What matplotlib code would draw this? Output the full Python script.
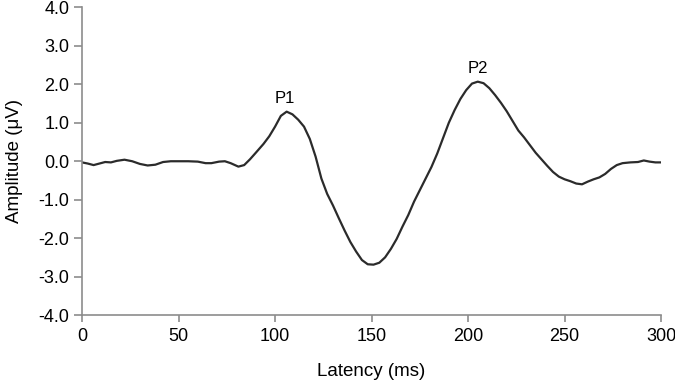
import matplotlib.pyplot as plt
from matplotlib.ticker import FormatStrFormatter

plt.rcParams['font.family'] = ['Liberation Sans', 'DejaVu Sans']
plt.rcParams['axes.unicode_minus'] = False

latency = [0, 3, 6, 9, 12, 15, 18, 22, 26, 30, 34, 38, 42, 46, 50, 55, 60, 64, 67, 71,
           74, 77, 81, 84, 87, 90, 94, 97, 100, 103, 106, 109, 112, 115, 118, 121, 124,
           127, 130, 133, 136, 139, 142, 145, 148, 151, 154, 157, 160, 163, 166, 169,
           172, 175, 178, 181, 184, 187, 190, 193, 196, 199, 202, 205, 208, 211, 214,
           217, 220, 223, 226, 229, 232, 235, 238, 241, 244, 247, 250, 253, 256, 259,
           262, 265, 268, 271, 274, 277, 280, 284, 288, 291, 294, 297, 300]
amplitude = [-0.03, -0.06, -0.10, -0.06, -0.02, -0.03, 0.01, 0.04, 0.0, -0.07, -0.11,
             -0.09, -0.02, 0.0, 0.0, 0.0, -0.01, -0.05, -0.05, -0.01, 0.0, -0.05, -0.14,
             -0.10, 0.05, 0.22, 0.45, 0.65, 0.90, 1.18, 1.29, 1.22, 1.08, 0.90, 0.58,
             0.12, -0.45, -0.85, -1.15, -1.48, -1.80, -2.10, -2.35, -2.57, -2.68, -2.69,
             -2.64, -2.50, -2.28, -2.02, -1.70, -1.40, -1.05, -0.75, -0.45, -0.15, 0.20,
             0.60, 1.00, 1.33, 1.62, 1.85, 2.02, 2.07, 2.03, 1.90, 1.72, 1.52, 1.30, 1.05,
             0.80, 0.62, 0.42, 0.22, 0.05, -0.12, -0.28, -0.40, -0.47, -0.52, -0.58, -0.60,
             -0.53, -0.47, -0.42, -0.33, -0.20, -0.10, -0.05, -0.03, -0.02, 0.02, -0.01,
             -0.03, -0.03]
peaks = {'P1': (105, 1.29), 'P2': (205, 2.07)}

fig = plt.figure(figsize=(6.75, 3.83), dpi=100)
ax = fig.add_axes([0.1215, 0.1775, 0.858, 0.803])
ax.plot(latency, amplitude, color='#2b2b2b', linewidth=1.6)

for name, (x, y) in peaks.items():
    ax.annotate(name, (x, y), xytext=(0, 4), textcoords='offset points',
                ha='center', va='bottom', fontsize=12)

ax.set_xlim(0, 300)
ax.set_ylim(-4, 4)
ax.set_xticks(range(0, 301, 50))
ax.set_yticks([-4, -3, -2, -1, 0, 1, 2, 3, 4])
ax.yaxis.set_major_formatter(FormatStrFormatter('%.1f'))
ax.set_xlabel('Latency (ms)', fontsize=13.5, labelpad=13)
ax.set_ylabel('Amplitude (μV)', fontsize=13.5, labelpad=11)

for s in ['top', 'right']:
    ax.spines[s].set_visible(False)
for s in ['left', 'bottom']:
    ax.spines[s].set_color('#8c8c8c')
    ax.spines[s].set_linewidth(1.2)
ax.tick_params(axis='x', direction='out', length=5, color='#8c8c8c', width=1.2,
               labelsize=13, pad=4)
ax.tick_params(axis='y', direction='out', length=6, color='#8c8c8c', width=1.2,
               labelsize=13, pad=3)

fig.savefig('out.png', dpi=100)
